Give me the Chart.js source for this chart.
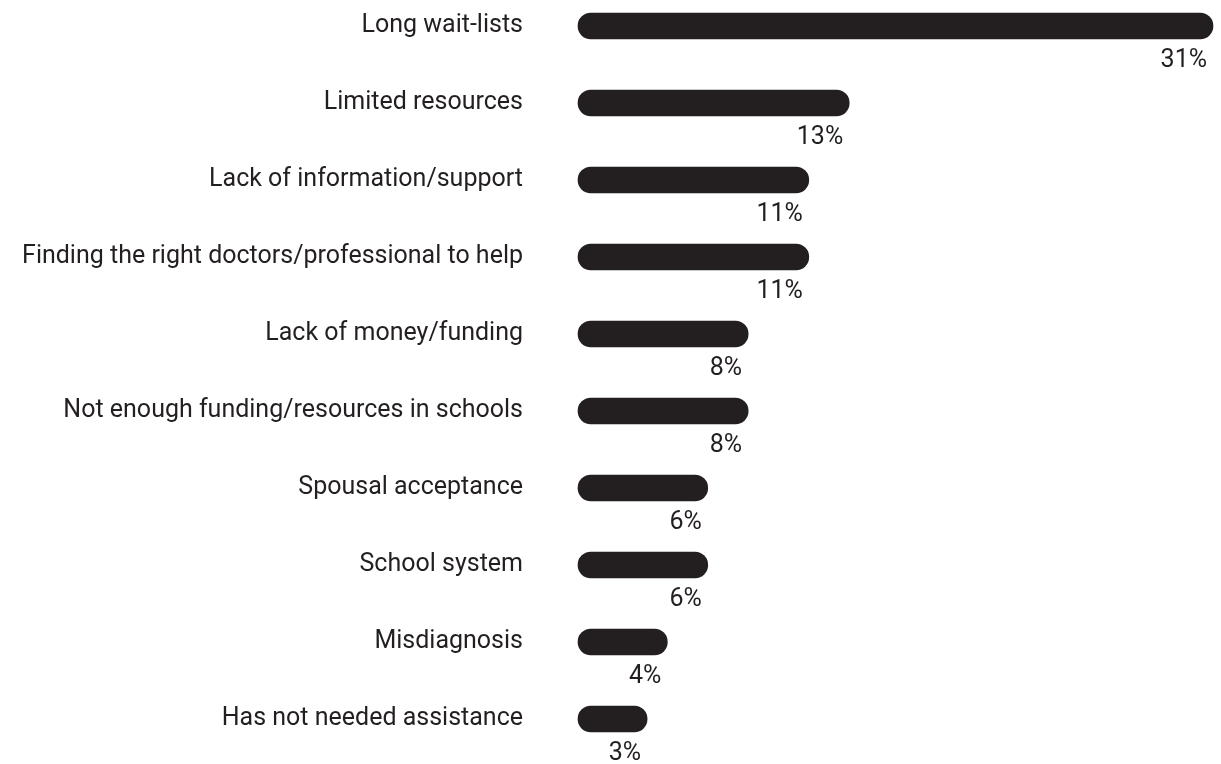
<!DOCTYPE html>
<html>
<head>
<meta charset="utf-8">
<script src="https://cdn.jsdelivr.net/npm/chart.js@4"></script>
<style>
  html, body { margin: 0; padding: 0; background: #fff; }
  #wrap { width: 1221px; height: 764px; position: relative; }
</style>
</head>
<body>
<div id="wrap"><canvas id="barriersChart"></canvas></div>
<script>
// Barriers to getting help, share of respondents (%)
const categories = [
    'Long wait-lists',
    'Limited resources',
    'Lack of information/support',
    'Finding the right doctors/professional to help',
    'Lack of money/funding',
    'Not enough funding/resources in schools',
    'Spousal acceptance',
    'School system',
    'Misdiagnosis',
    'Has not needed assistance'
];
const percentages = [31, 13, 11, 11, 8, 8, 6, 6, 4, 3];

const INK = '#231f20';
const FONT = 'Roboto, "Noto Sans", sans-serif';
const FONT_SIZE = 25;

// percentage printed under the right end of each bar
const valueLabels = {
    id: 'valueLabels',
    afterDatasetsDraw(chart) {
        const ctx = chart.ctx;
        const meta = chart.getDatasetMeta(0);
        ctx.save();
        ctx.font = FONT_SIZE + 'px ' + FONT;
        ctx.fillStyle = INK;
        ctx.textAlign = 'right';
        ctx.textBaseline = 'middle';
        meta.data.forEach((bar, i) => {
            ctx.fillText(percentages[i] + '%', bar.x - 6, bar.y + 35);
        });
        ctx.restore();
    }
};

document.addEventListener('DOMContentLoaded', function() {
    const ctx = document.getElementById('barriersChart').getContext('2d');
    new Chart(ctx, {
        type: 'bar',
        data: {
            labels: categories,
            datasets: [{
                data: percentages,
                base: -0.42,
                backgroundColor: INK,
                barThickness: 26,
                borderRadius: 13,
                borderSkipped: false,
                clip: false
            }]
        },
        plugins: [valueLabels],
        options: {
            indexAxis: 'y',
            responsive: true,
            maintainAspectRatio: false,
            animation: false,
            layout: { padding: { top: 26, bottom: 45, right: 8, left: 0 } },
            plugins: {
                legend: { display: false },
                tooltip: { enabled: false }
            },
            scales: {
                x: {
                    min: -0.42,
                    max: 31,
                    display: false
                },
                y: {
                    offset: false,
                    grid: { display: false, drawTicks: false },
                    border: { display: false },
                    afterFit(scale) {
                        scale.width = 578;
                        scale.paddingTop = 0;
                        scale.paddingBottom = 0;
                    },
                    ticks: {
                        padding: 55,
                        color: INK,
                        font: { family: FONT, size: FONT_SIZE }
                    }
                }
            }
        }
    });
});
</script>
</body>
</html>
